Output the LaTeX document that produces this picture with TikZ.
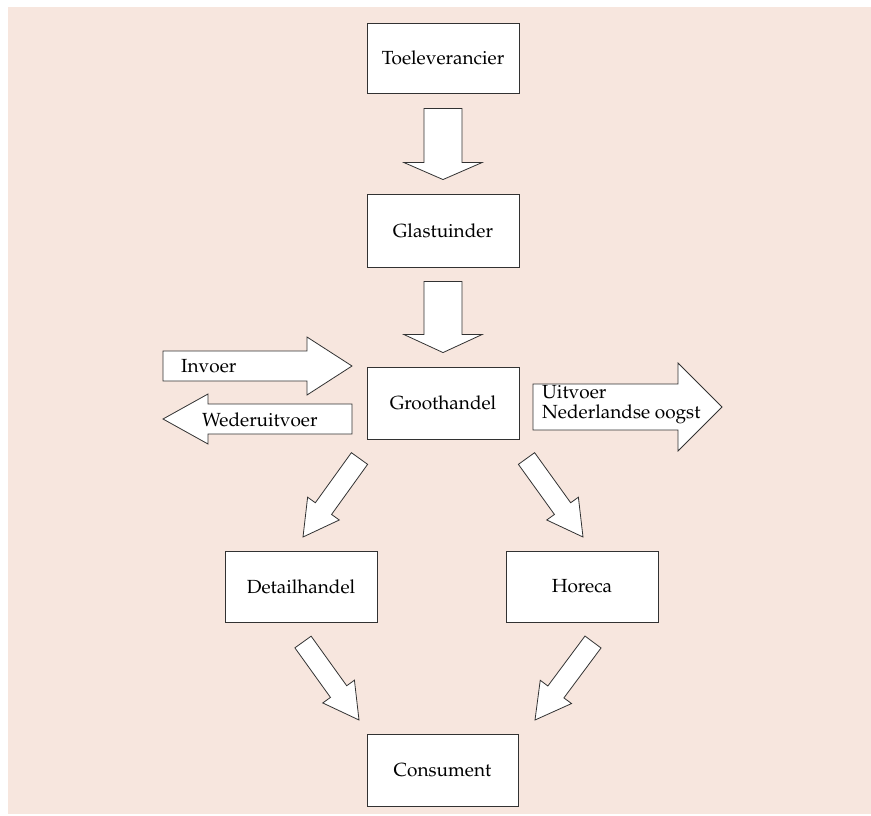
\documentclass[tikz,border=0pt]{standalone}
\usepackage[T1]{fontenc}
\renewcommand\rmdefault{ppl}
\usetikzlibrary{calc}
\definecolor{bgpink}{RGB}{247,230,222}
\definecolor{lineclr}{RGB}{50,50,50}
\tikzset{
  box/.style={draw=lineclr, line width=0.9pt, fill=white, minimum width=152pt, minimum height=71pt, inner sep=0pt, font=\fontsize{19}{20}\selectfont},
  blk/.style={draw=lineclr, line width=0.8pt, fill=white, line join=miter},
  lbl/.style={font=\fontsize{19}{20}\selectfont, inner sep=0pt, anchor=west, align=left}
}
% #1 tail, #2 tip, #3 shaft half width, #4 head half width, #5 head length
\newcommand\blkarrow[5]{%
  \path ($(#2)!#5!(#1)$) coordinate (ba);
  \draw[blk] ($(#1)!#3!90:(#2)$) -- ($(ba)!#3!90:(#2)$) -- ($(ba)!#4!90:(#2)$) -- (#2)
    -- ($(ba)!#4!-90:(#2)$) -- ($(ba)!#3!-90:(#2)$) -- ($(#1)!#3!-90:(#2)$) -- cycle;
}
\begin{document}
\begin{tikzpicture}[x=1pt,y=-1pt]
\useasboundingbox (0,0) rectangle (871,815);
\fill[white] (0,0) rectangle (871,815);
\fill[bgpink] (8,7) rectangle (871,814);

\node[box, minimum height=70pt] (toe) at (443,58) {Toeleverancier};
\node[box, minimum height=73pt] (glas) at (443,230.5) {Glastuinder};
\node[box, minimum height=72pt] (groot) at (443,403) {Groothandel};
\node[box] (detail) at (301,586.5) {Detailhandel};
\node[box] (horeca) at (582,586.5) {Horeca};
\node[box, minimum width=151pt, minimum height=72pt] (cons) at (442.5,770) {Consument};

% vertical arrows
\coordinate (a1t) at ($(toe.south)+(0,15)$);
\coordinate (a1h) at ($(glas.north)+(0,-14)$);
\blkarrow{a1t}{a1h}{19pt}{39pt}{17pt}
\coordinate (a2t) at ($(glas.south)+(0,14)$);
\coordinate (a2h) at ($(groot.north)+(0,-14)$);
\blkarrow{a2t}{a2h}{19pt}{39pt}{18pt}

% side arrows
\coordinate (invt) at (163,366);
\coordinate (invh) at (352,366);
\blkarrow{invt}{invh}{15pt}{29pt}{45pt}
\node[lbl] (invl) at (181,366) {Invoer};

\coordinate (wedt) at (352,419);
\coordinate (wedh) at (163,419);
\blkarrow{wedt}{wedh}{15pt}{25pt}{45pt}
\node[lbl] (wedl) at (202,420) {Wederuitvoer};

\coordinate (uitt) at (533,407);
\coordinate (uith) at (722,407);
\blkarrow{uitt}{uith}{23pt}{44pt}{44pt}
\node[lbl] (uitl) at (542,405) {Uitvoer\\Nederlandse oogst};

% diagonal arrows
\coordinate (d1t) at (359.5,458.5);
\coordinate (d1h) at (303,537);
\blkarrow{d1t}{d1h}{10pt}{19.5pt}{35pt}
\coordinate (d2t) at (526.5,458.5);
\coordinate (d2h) at (583,537);
\blkarrow{d2t}{d2h}{10pt}{19.5pt}{35pt}
\coordinate (d3t) at (303,642);
\coordinate (d3h) at (359,720);
\blkarrow{d3t}{d3h}{10pt}{19.5pt}{35pt}
\coordinate (d4t) at (593,642);
\coordinate (d4h) at (535,720);
\blkarrow{d4t}{d4h}{10pt}{19.5pt}{35pt}
\end{tikzpicture}
\end{document}
